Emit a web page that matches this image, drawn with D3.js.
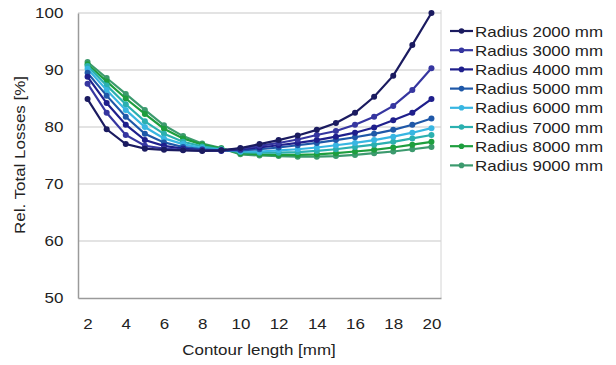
<!DOCTYPE html>
<html><head><meta charset="utf-8">
<script src="https://cdn.jsdelivr.net/npm/d3@7/dist/d3.min.js"></script>
<style>body{margin:0;background:#fff;font-family:"Liberation Sans",Arial,sans-serif;}</style>
</head><body><svg id="c" width="616" height="365"></svg>
<script>
const contourLengths = [2,3,4,5,6,7,8,9,10,11,12,13,14,15,16,17,18,19,20];
const seriesNames = ["Radius 2000 mm","Radius 3000 mm","Radius 4000 mm","Radius 5000 mm","Radius 6000 mm","Radius 7000 mm","Radius 8000 mm","Radius 9000 mm"];
const r2000 = [84.9,79.6,77.0,76.2,76.0,75.9,75.8,75.9,76.3,77.0,77.7,78.5,79.5,80.7,82.5,85.3,89.0,94.4,100.0];
const r3000 = [87.6,82.5,78.6,76.7,76.2,76.0,75.9,75.9,76.2,76.7,77.2,77.8,78.6,79.3,80.4,81.8,83.7,86.5,90.3];
const r4000 = [88.8,84.2,80.4,77.7,76.7,76.2,75.9,75.8,76.1,76.4,76.8,77.2,77.7,78.3,79.0,79.9,81.2,82.5,84.9];
const r5000 = [89.5,85.5,81.8,78.8,77.3,76.5,76.1,75.9,75.9,76.1,76.4,76.8,77.2,77.7,78.2,78.8,79.5,80.4,81.5];
const r6000 = [90.2,86.5,83.0,80.0,78.0,77.0,76.3,76.0,75.7,75.7,75.9,76.1,76.4,76.8,77.2,77.7,78.3,79.0,79.8];
const r7000 = [90.7,87.3,84.0,81.0,78.8,77.4,76.6,76.1,75.6,75.5,75.5,75.6,75.8,76.1,76.5,76.9,77.4,78.0,78.6];
const r8000 = [91.0,88.0,85.0,82.3,79.7,78.0,76.9,76.2,75.4,75.2,75.1,75.1,75.2,75.4,75.7,76.0,76.4,76.9,77.4];
const r9000 = [91.4,88.6,85.8,83.0,80.3,78.4,77.1,76.3,75.2,75.0,74.9,74.8,74.8,74.9,75.1,75.4,75.7,76.1,76.5];
const seriesValues = [r2000,r3000,r4000,r5000,r6000,r7000,r8000,r9000];
const colors = ["#1b1b60","#3636a0","#1f1f8c","#1f58a8","#38b6e2","#2bb0b0","#1e9e3e","#3c9a6e"];
const yTicks = [50,60,70,80,90,100];
const xTickLabels = [2,4,6,8,10,12,14,16,18,20];

const FS = 15, SX = 1.13, TXT = "#222";
const svg = d3.select("#c");
const L = 78, R = 441, T = 13, B = 298;
const x = d3.scalePoint().domain(contourLengths).range([L, R]).padding(0.5);
const y = d3.scaleLinear().domain([50,100]).range([B, T]);

function label(px, py, str, anchor, rot) {
  return svg.append("text")
    .attr("transform", `translate(${px},${py})` + (rot ? ` rotate(${rot})` : "") + ` scale(${SX},1)`)
    .attr("text-anchor", anchor).attr("font-size", FS).attr("fill", TXT).text(str);
}

// gridlines
svg.append("g").selectAll("line").data(yTicks.slice(1)).join("line")
  .attr("x1", L).attr("x2", R).attr("y1", d=>y(d)).attr("y2", d=>y(d))
  .attr("stroke", "#c8c8c8").attr("stroke-width", 1.2);
// right border
svg.append("line").attr("x1",R).attr("x2",R).attr("y1",T-3).attr("y2",B)
  .attr("stroke","#d4d4d4").attr("stroke-width",1);

// y axis
const ya = svg.append("g").attr("transform",`translate(${L},0)`)
  .call(d3.axisLeft(y).tickValues(yTicks).tickSize(0).tickPadding(13));
ya.select(".domain").attr("stroke","#9a9a9a").attr("stroke-width",1.5);
ya.selectAll("text").attr("font-size",FS).attr("fill",TXT).attr("font-family","Liberation Sans, Arial, sans-serif")
  .attr("transform",`scale(${SX},1)`);

// x axis
const xa = svg.append("g").attr("transform",`translate(0,${B})`)
  .call(d3.axisBottom(x).tickValues(xTickLabels).tickSize(0).tickPadding(20));
xa.select(".domain").attr("stroke","#9a9a9a").attr("stroke-width",1.5);
xa.selectAll("text").attr("font-size",FS).attr("fill",TXT).attr("font-family","Liberation Sans, Arial, sans-serif")
  .attr("transform",`scale(${SX},1)`);

// axis titles
label(259, 355, "Contour length [mm]", "middle");
label(25, 155, "Rel. Total Losses [%]", "middle", -90);

// series (draw in reverse so dark ones on top)
const line = d3.line().x((d,i)=>x(contourLengths[i])).y(d=>y(d));
const order = d3.range(seriesValues.length).reverse();
order.forEach(s => {
  const g = svg.append("g");
  g.append("path").datum(seriesValues[s]).attr("d", line)
    .attr("fill","none").attr("stroke",colors[s]).attr("stroke-width",2.2);
  g.selectAll("circle").data(seriesValues[s]).join("circle")
    .attr("cx",(d,i)=>x(contourLengths[i])).attr("cy",d=>y(d)).attr("r",3)
    .attr("fill",colors[s]);
});

// legend
seriesNames.forEach((n,i)=>{
  const yy = 31 + i*19.2;
  svg.append("line").attr("x1",450).attr("x2",473).attr("y1",yy).attr("y2",yy)
    .attr("stroke",colors[i]).attr("stroke-width",2.2);
  svg.append("circle").attr("cx",461.5).attr("cy",yy).attr("r",2.8).attr("fill",colors[i]);
  label(475, yy+5.5, n, "start");
});
</script></body></html>
